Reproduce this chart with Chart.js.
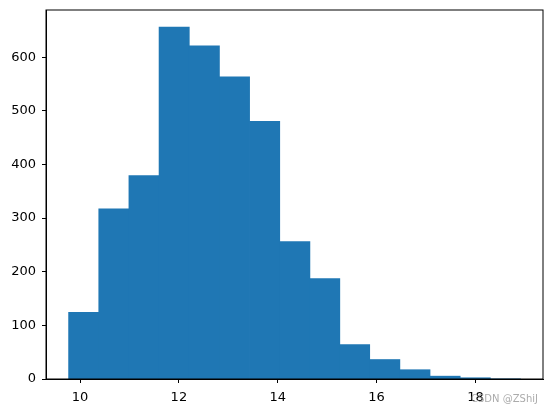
<!DOCTYPE html>
<html>
<head>
<meta charset="utf-8">
<script src="https://cdn.jsdelivr.net/npm/chart.js@4/dist/chart.umd.min.js"></script>
<style>
  html, body { margin: 0; padding: 0; background: #fff; }
  #wrap { width: 552px; height: 413px; }
</style>
</head>
<body>
<div id="wrap"><canvas id="myChart" width="552" height="413"></canvas></div>
<script>
// histogram bins (left edges) and counts
const binEdges = [9.77, 10.38, 10.99, 11.60, 12.21, 12.82, 13.43, 14.04, 14.65, 15.25, 15.86, 16.47, 17.08, 17.69, 18.30, 18.91];
const counts = [124, 317, 379, 656, 621, 563, 480, 256, 187, 64, 36, 17, 5, 2, 0];
const xTicks = [10, 12, 14, 16, 18];
const yTicks = [0, 100, 200, 300, 400, 500, 600];

const histData = [];
for (let i = 0; i < counts.length; i++) {
  histData.push({ x: (binEdges[i] + binEdges[i + 1]) / 2, y: counts[i] });
}

// box around the plot + watermark
const frame = {
  id: 'frame',
  afterDraw(chart) {
    const c = chart.ctx, a = chart.chartArea;
    c.save();
    c.strokeStyle = '#000';
    c.lineWidth = 1;
    c.strokeRect(a.left, a.top, a.right - a.left, a.bottom - a.top);
    c.font = '10px "DejaVu Sans"';
    c.fillStyle = 'rgba(150,150,150,0.8)';
    c.textBaseline = 'middle';
    c.fillText('CSDN @ZShiJ', 471, 399);
    c.restore();
  }
};

Chart.defaults.font.family = '"DejaVu Sans", sans-serif';
Chart.defaults.font.size = 13;
Chart.defaults.color = '#000';

let myChart = document.getElementById('myChart').getContext('2d');
new Chart(myChart, {
  type: 'bar',
  data: {
    datasets: [{
      data: histData,
      backgroundColor: '#1f77b4',
      borderWidth: 0,
      inflateAmount: 0.5,
      barPercentage: 1,
      categoryPercentage: 1
    }]
  },
  options: {
    responsive: false,
    animation: false,
    layout: { padding: { left: 0, top: 10, right: 9, bottom: 0 } },
    plugins: { legend: { display: false }, tooltip: { enabled: false } },
    scales: {
      x: {
        type: 'linear',
        offset: false,
        min: 9.312,
        max: 19.366,
        afterBuildTicks: (s) => { s.ticks = xTicks.map(v => ({ value: v })); },
        afterFit: (s) => { s.height = 34; s.paddingLeft = 0; s.paddingRight = 0; },
        grid: { offset: false, drawOnChartArea: false, drawTicks: true, tickLength: 4, color: '#000' },
        border: { display: true, color: '#000' },
        ticks: { padding: 7, maxRotation: 0 }
      },
      y: {
        min: 0,
        max: 688,
        afterBuildTicks: (s) => { s.ticks = yTicks.map(v => ({ value: v })); },
        afterFit: (s) => { s.width = 46; s.paddingTop = 0; s.paddingBottom = 0; },
        grid: { drawOnChartArea: false, drawTicks: true, tickLength: 4, color: '#000' },
        border: { display: true, color: '#000' },
        ticks: { padding: 6 }
      }
    }
  },
  plugins: [frame]
});
</script>
</body>
</html>
